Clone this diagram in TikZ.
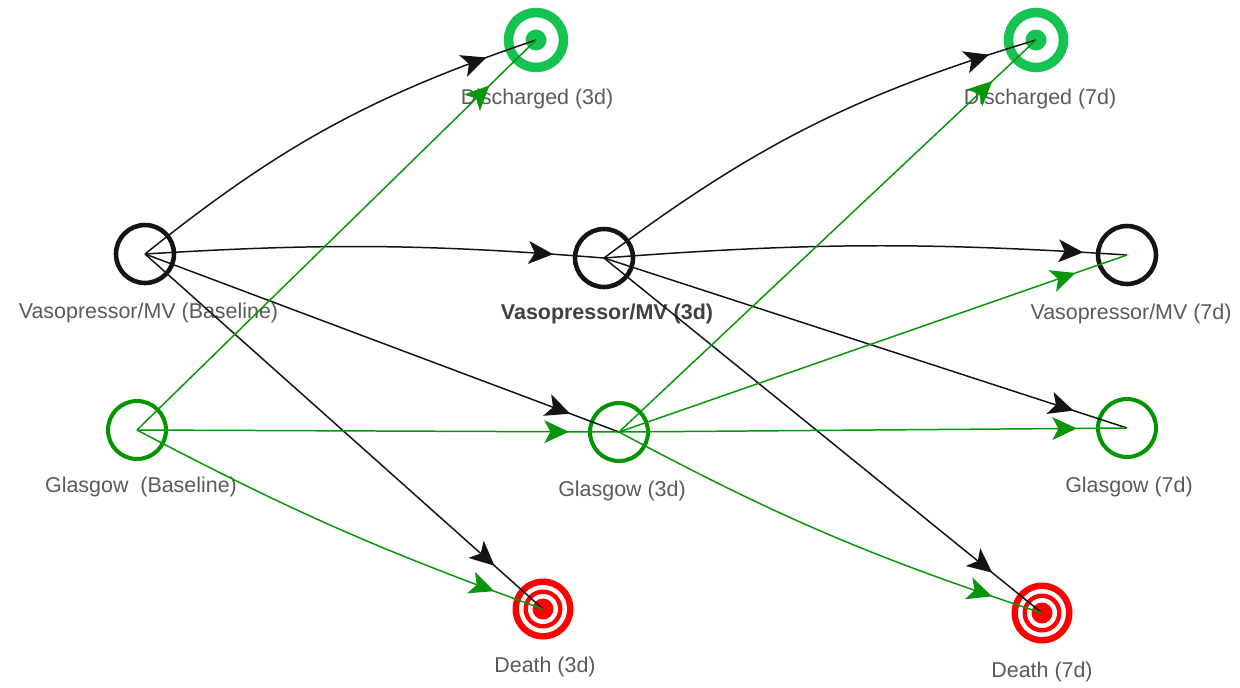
\documentclass[tikz,border=0pt]{standalone}
\usepackage{fontspec}
\setmainfont{Liberation Sans}
\usetikzlibrary{arrows.meta,decorations.markings}
\definecolor{gcirc}{RGB}{0,150,0}
\definecolor{gdis}{RGB}{20,195,80}
\definecolor{gline}{RGB}{10,150,10}
\definecolor{txt}{RGB}{90,90,90}
\definecolor{dred}{RGB}{255,0,0}
\definecolor{ink}{RGB}{20,20,20}
\begin{document}
\begin{tikzpicture}[x=0.02cm,y=-0.02cm,
  lbl/.style={font=\fontsize{12.2}{14}\selectfont, text=txt, anchor=base, inner sep=0pt},
  state/.style={circle, minimum size=1.16cm, inner sep=0pt},
  vaso/.style={state, draw=ink, line width=2.6pt},
  glas/.style={state, draw=gcirc, line width=2.3pt},
  disch/.style={circle, draw=gdis, line width=5.4pt, minimum size=1.1cm, inner sep=0pt},
  death/.style={circle, fill=dred, minimum size=1.22cm, inner sep=0pt},
  blk/.style={line width=0.85pt, draw=ink},
  grn/.style={line width=0.85pt, draw=gline},
  ah/.style={postaction={decorate,decoration={markings,mark=at position -#1 with {\arrow{Stealth[length=14pt,width=13pt,inset=3.5pt]}}}}}
]
\useasboundingbox (0,0) rectangle (1240,687);
% nodes
\node[vaso] (vb) at (145,254) {};
\node[glas] (gb) at (137,430) {};
\node[disch] (d3) at (536,40) {};
\node[vaso] (v3) at (604,258) {};
\node[glas] (g3) at (619,432) {};
\node[death] (x3) at (543,609) {};
\node[disch] (d7) at (1036,40) {};
\node[vaso] (v7) at (1127,255) {};
\node[glas] (g7) at (1127,428) {};
\node[death] (x7) at (1042,613) {};
% inner parts of the targets
\foreach \n in {x3,x7}{
  \fill[white] (\n.center) circle (0.48cm);
  \fill[dred] (\n.center) circle (0.39cm);
  \fill[white] (\n.center) circle (0.30cm);
  \fill[dred] (\n.center) circle (0.21cm);
}
\foreach \n in {d3,d7}{
  \fill[gdis] (\n.center) circle (0.21cm);
}
% labels
\node[lbl] (lvb) at (148.5,318) {Vasopressor/MV (Baseline)};
\node[lbl] (lgb) at (141,492) {Glasgow\ \ (Baseline)};
\node[lbl] (ld3) at (537,104) {Discharged (3d)};
\node[lbl,text=black!75,font=\fontsize{12.2}{14}\selectfont\bfseries] (lv3) at (607,319) {Vasopressor/MV (3d)};
\node[lbl] (lg3) at (622,496) {Glasgow (3d)};
\node[lbl] (lx3) at (545,672) {Death (3d)};
\node[lbl] (ld7) at (1040,104) {Discharged (7d)};
\node[lbl] (lv7) at (1131,319) {Vasopressor/MV (7d)};
\node[lbl] (lg7) at (1129,492) {Glasgow (7d)};
\node[lbl] (lx7) at (1042,677) {Death (7d)};
% edges from baseline
\draw[blk,ah=30pt] (vb.center) to[bend left=10] (d3.center);
\draw[blk,ah=29pt] (vb.center) to[bend left=4] (v3.center);
\draw[blk,ah=29.6pt] (vb.center) -- (g3.center);
\draw[blk,ah=37pt] (vb.center) -- (x3.center);
\draw[grn,ah=37pt] (gb.center) -- (d3.center);
\draw[grn,ah=28.5pt] (gb.center) -- (g3.center);
\draw[grn,ah=29.6pt] (gb.center) to[bend right=4] (x3.center);
% edges from 3d
\draw[blk,ah=28pt] (v3.center) to[bend left=10] (d7.center);
\draw[blk,ah=25pt] (v3.center) to[bend left=4] (v7.center);
\draw[blk,ah=32pt] (v3.center) -- (g7.center);
\draw[blk,ah=36.5pt] (v3.center) -- (x7.center);
\draw[grn,ah=34pt] (g3.center) -- (d7.center);
\draw[grn,ah=31pt] (g3.center) -- (v7.center);
\draw[grn,ah=28.5pt] (g3.center) -- (g7.center);
\draw[grn,ah=30pt] (g3.center) to[bend right=5] (x7.center);
\end{tikzpicture}
\end{document}
